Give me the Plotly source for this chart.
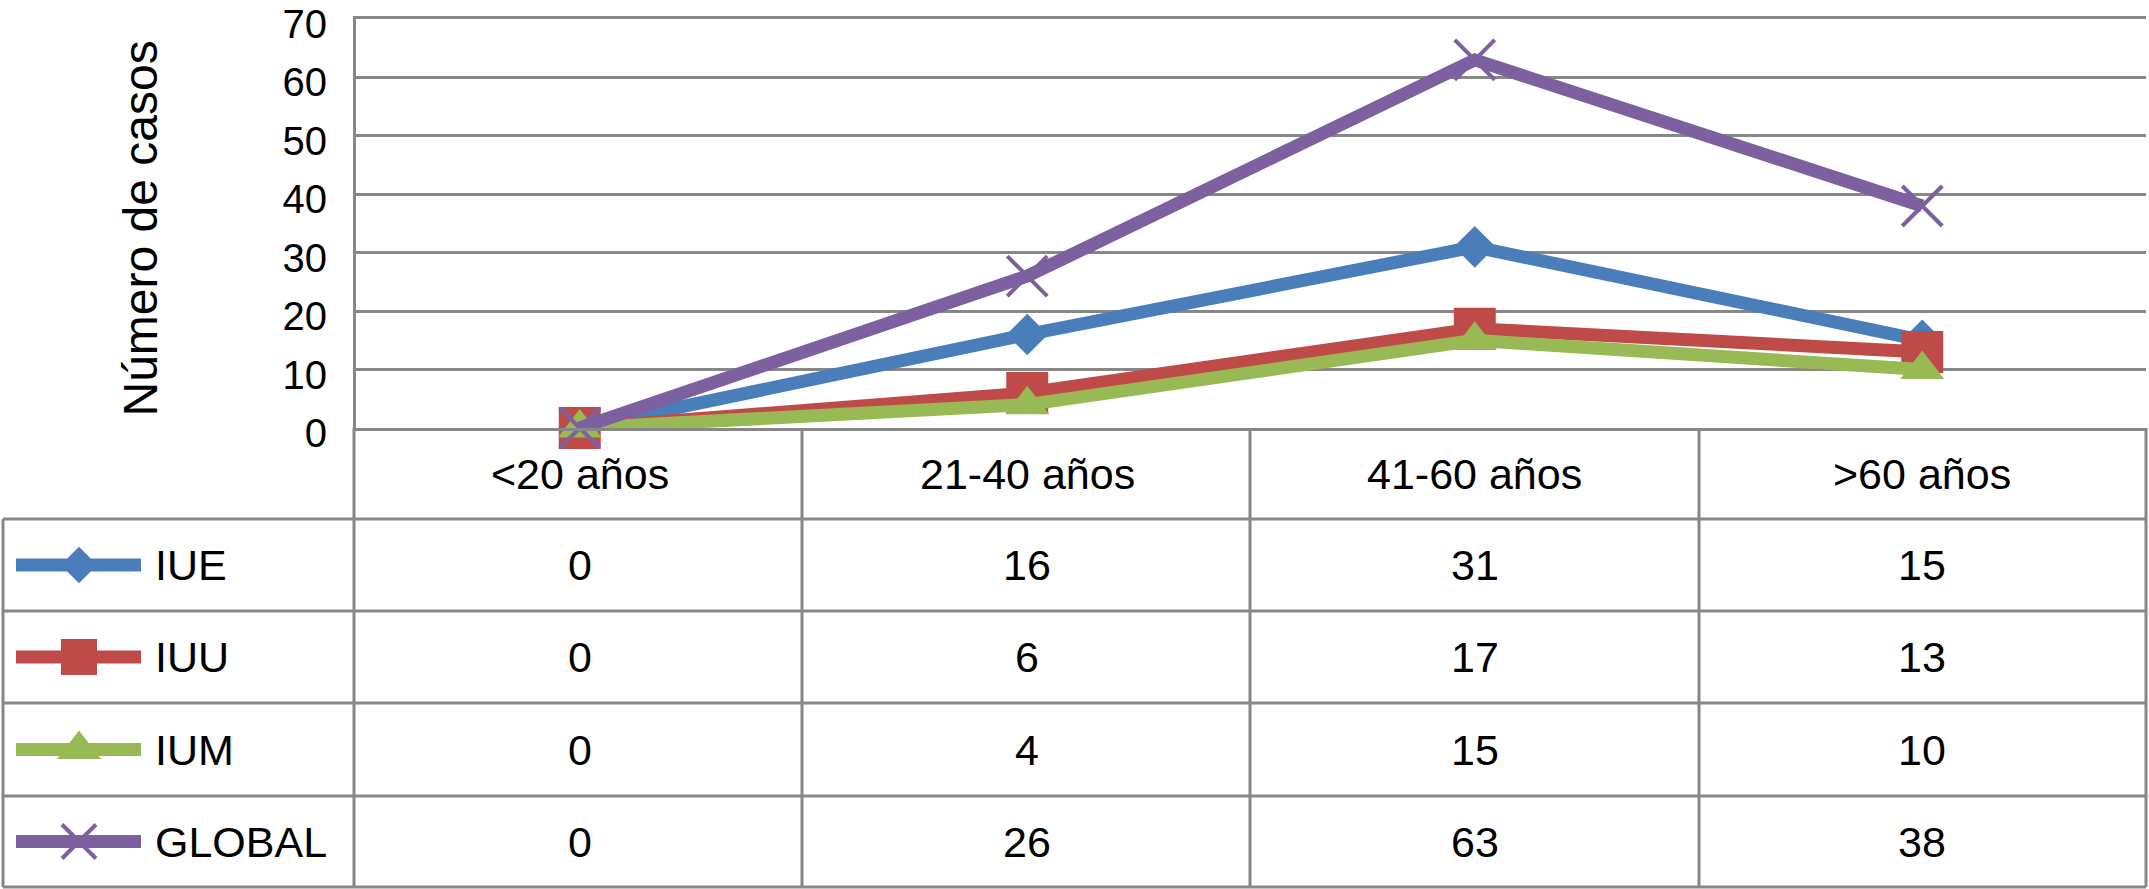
import plotly.graph_objects as go

# ---------------- data ----------------
categories = ["<20 años", "21-40 años", "41-60 años", ">60 años"]
series_names = ["IUE", "IUU", "IUM", "GLOBAL"]
iue = [0, 16, 31, 15]
iuu = [0, 6, 17, 13]
ium = [0, 4, 15, 10]
glob = [0, 26, 63, 38]
y_ticks = [0, 10, 20, 30, 40, 50, 60, 70]
y_title = "Número de casos"

series_values = [iue, iuu, ium, glob]
colors = ["#4A7EBB", "#BE4B48", "#98B954", "#7D60A0"]
symbols = ["diamond", "square", "triangle-up", "x-thin"]
msizes = [32, 42, 38, 40]
leg_msizes = [28, 36, 38, 34]

W, H = 2149, 889
FONT = "Liberation Sans, Arial, Helvetica, sans-serif"
GRID = "#878787"
FS = 43
TICK_FS = 40

# layout geometry (pixels)
plot_left, plot_right = 356, 2146
plot_top, plot_bottom = 19, 428
col_edges = [354, 802, 1250, 1699, 2146]
row_edges = [428, 519, 611, 703, 796, 887]
table_left = 3

def px(x):
    return x / W

def py(y):
    return 1 - y / H

fig = go.Figure()

xs = list(range(len(categories)))
for name, vals, c, s, ms in zip(series_names, series_values, colors, symbols, msizes):
    marker = dict(symbol=s, size=ms, color=c, opacity=1)
    if s == "x-thin":
        marker["line"] = dict(color=c, width=4)
    else:
        marker["line"] = dict(color=c, width=0)
    fig.add_trace(go.Scatter(
        x=xs, y=vals, mode="lines+markers", name=name,
        line=dict(color=c, width=13), marker=marker,
        xaxis="x", yaxis="y", showlegend=False, cliponaxis=False,
    ))

# legend samples inside the table's left column (overlay pixel axes)
for i, (name, c, s, ms) in enumerate(zip(series_names, colors, symbols, leg_msizes)):
    yc = (row_edges[i + 1] + row_edges[i + 2]) / 2
    marker = dict(symbol=s, size=[0, ms, 0], color=c, opacity=1)
    if s == "x-thin":
        marker["line"] = dict(color=c, width=4)
    else:
        marker["line"] = dict(color=c, width=0)
    fig.add_trace(go.Scatter(
        x=[16, 79, 141], y=[yc, yc, yc], mode="lines+markers",
        line=dict(color=c, width=13), marker=marker,
        xaxis="x2", yaxis="y2", showlegend=False, hoverinfo="skip",
    ))

shapes = []
line_style = dict(color=GRID, width=3)
# horizontal table lines
for y in row_edges[1:]:
    shapes.append(dict(type="line", xref="paper", yref="paper",
                       x0=px(table_left), x1=px(col_edges[-1]), y0=py(y), y1=py(y),
                       line=line_style))
# vertical table lines
for x in col_edges:
    shapes.append(dict(type="line", xref="paper", yref="paper",
                       x0=px(x), x1=px(x), y0=py(row_edges[0]), y1=py(row_edges[-1]),
                       line=line_style))
shapes.append(dict(type="line", xref="paper", yref="paper",
                   x0=px(table_left), x1=px(table_left), y0=py(row_edges[1]), y1=py(row_edges[-1]),
                   line=line_style))

annotations = []
# header row: categories
hy = (row_edges[0] + row_edges[1]) / 2
for i, cat in enumerate(categories):
    annotations.append(dict(x=i, y=py(hy), xref="x", yref="paper", text=cat,
                            showarrow=False, font=dict(size=FS, color="black", family=FONT),
                            xanchor="center", yanchor="middle"))
# data rows
for r, (name, vals) in enumerate(zip(series_names, series_values)):
    yc = (row_edges[r + 1] + row_edges[r + 2]) / 2
    annotations.append(dict(x=px(153), y=py(yc), xref="paper", yref="paper", text=name,
                            showarrow=False, font=dict(size=FS, color="black", family=FONT),
                            xanchor="left", yanchor="middle"))
    for i, v in enumerate(vals):
        annotations.append(dict(x=i, y=py(yc), xref="x", yref="paper", text=str(v),
                                showarrow=False, font=dict(size=FS, color="black", family=FONT),
                                xanchor="center", yanchor="middle"))
# y title
annotations.append(dict(x=px(140), y=py((plot_top + plot_bottom) / 2 + 5), xref="paper", yref="paper",
                        text=y_title, textangle=-90, showarrow=False,
                        font=dict(size=48, color="black", family=FONT),
                        xanchor="center", yanchor="middle"))

fig.update_layout(
    width=W, height=H,
    margin=dict(l=0, r=0, t=0, b=0, pad=0, autoexpand=False),
    paper_bgcolor="white", plot_bgcolor="rgba(0,0,0,0)",
    showlegend=False,
    font=dict(family=FONT, color="black"),
    xaxis=dict(domain=[px(plot_left), px(plot_right)], type="linear",
               range=[-0.5, len(categories) - 0.5], showticklabels=False,
               showgrid=False, zeroline=False, showline=True, mirror=True,
               linecolor=GRID, linewidth=3, ticks="",
               anchor="y"),
    yaxis=dict(domain=[py(plot_bottom), py(plot_top)], range=[0, 70],
               tickvals=y_ticks, ticktext=[str(t) for t in y_ticks],
               tickfont=dict(size=TICK_FS, color="black", family=FONT),
               ticklabeloverflow="allow", ticklabelshift=5,
               showgrid=True, gridcolor=GRID, gridwidth=3,
               zeroline=False, showline=True, linecolor=GRID, linewidth=3,
               ticks="", ticklabelstandoff=18, anchor="x"),
    xaxis2=dict(domain=[0, 1], range=[0, W], visible=False, anchor="y2"),
    yaxis2=dict(domain=[0, 1], range=[H, 0], visible=False, anchor="x2"),
    shapes=shapes,
    annotations=annotations,
)

fig.write_html("out.html", config={"displayModeBar": False},
               post_script="document.body.style.margin='0';document.body.style.overflow='hidden';")
